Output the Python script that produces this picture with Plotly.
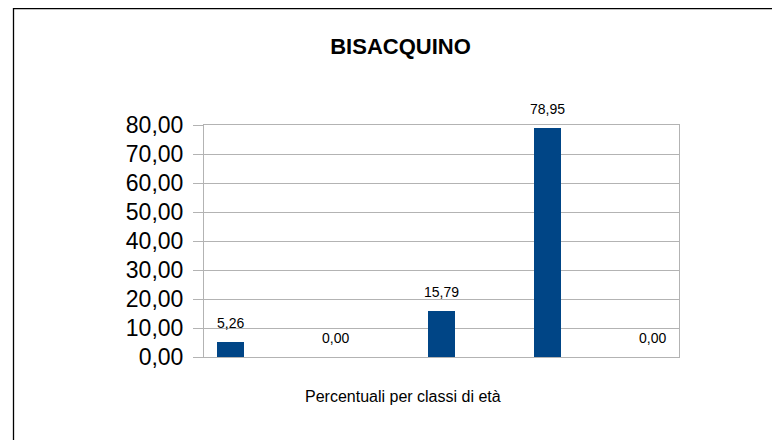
import plotly.graph_objects as go

title_text = "BISACQUINO"
x_title = "Percentuali per classi di età"
categories = ["Classe 1", "Classe 2", "Classe 3", "Classe 4", "Classe 5"]
values = [5.26, 0.00, 15.79, 78.95, 0.00]
y_ticks = [0, 10, 20, 30, 40, 50, 60, 70, 80]

BAR = "#004586"
GRID = "#b3b3b3"
FONT = "Liberation Sans, Arial, sans-serif"

# the page body has an 8px margin: work in page pixels and shift
OFF = 8
W, H = 780 - OFF, 440 - OFF
L, R, T, B = 204 - OFF, 679 - OFF, 125 - OFF, 357 - OFF
pw, ph = R - L, B - T

def px_x(p):
    return (p - OFF - L) / pw

def px_y(p):
    return (B - (p - OFF)) / ph

fig = go.Figure()
fig.add_trace(go.Bar(
    x=list(range(len(categories))),
    y=values,
    marker=dict(color=BAR, line=dict(width=0)),
    width=0.256,
    hovertext=categories,
    showlegend=False,
))

for i, v in enumerate(values):
    fig.add_annotation(
        x=i, y=v, xref="x", yref="y",
        text=f"{v:.2f}".replace(".", ","),
        showarrow=False, yanchor="bottom", yshift=9,
        font=dict(family=FONT, size=14, color="#000000"),
    )

fig.add_annotation(
    x=px_x(402.5), y=px_y(396), xref="paper", yref="paper",
    text=x_title, showarrow=False, xanchor="center", yanchor="middle",
    font=dict(family=FONT, size=16, color="#000000"),
)

# outer frame (only left and top edges visible)
fig.add_shape(
    type="rect", xref="paper", yref="paper",
    x0=px_x(13.5), x1=px_x(800), y0=px_y(470), y1=px_y(8.6),
    line=dict(color="#000000", width=1.3), fillcolor="rgba(0,0,0,0)",
    layer="above",
)

fig.update_layout(
    width=W, height=H,
    margin=dict(l=L, r=W - R, t=T, b=H - B, pad=0),
    paper_bgcolor="#ffffff", plot_bgcolor="#ffffff",
    separators=",.",
    font=dict(family=FONT, color="#000000"),
    title=dict(
        text=f"<b>{title_text}</b>", xref="paper", x=px_x(400.5),
        xanchor="center", yref="container", y=1 - (46.5 - OFF) / H, yanchor="middle",
        font=dict(family=FONT, size=22, color="#000000"),
    ),
    bargap=0,
    xaxis=dict(
        range=[-0.25, len(categories) - 0.75],
        showticklabels=False, ticks="", showgrid=False, zeroline=False,
        showline=True, linecolor=GRID, linewidth=1, mirror=True,
        fixedrange=True,
    ),
    yaxis=dict(
        range=[0, 80], tickvals=y_ticks, tickformat=".2f",
        ticks="outside", ticklen=10, tickcolor=GRID, tickwidth=1,
        ticklabelstandoff=5,
        tickfont=dict(family=FONT, size=23, color="#000000"),
        showgrid=True, gridcolor=GRID, gridwidth=1,
        zeroline=False, showline=True, linecolor=GRID, linewidth=1, mirror=True,
        fixedrange=True,
    ),
)

fig.write_html("out.html")
